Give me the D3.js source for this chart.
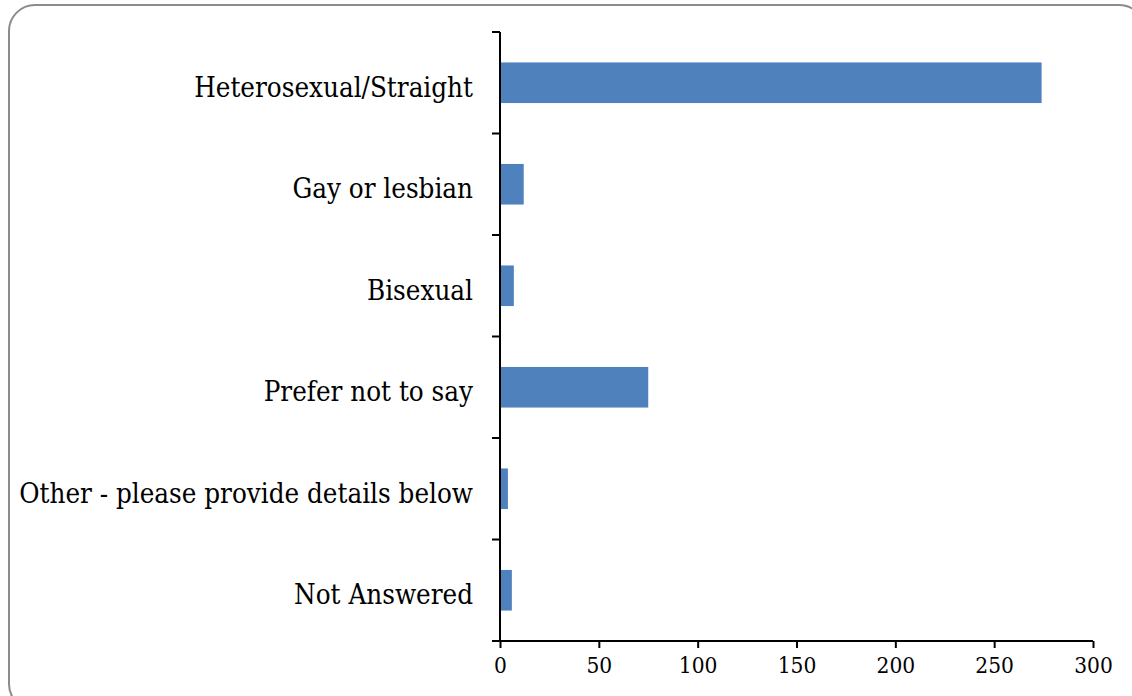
<!DOCTYPE html>
<html>
<head>
<meta charset="utf-8">
<script src="https://cdn.jsdelivr.net/npm/d3@7"></script>
<style>
  body { margin: 0; background: #fff; }
  svg { display: block; }
  text { font-family: "DejaVu Serif Condensed", "DejaVu Serif", serif; fill: #000; }
</style>
</head>
<body>
<div id="chart"></div>
<script>
var W = 1132, H = 696;

// categories top to bottom, counts
var categories = ["Heterosexual/Straight", "Gay or lesbian", "Bisexual",
                  "Prefer not to say", "Other - please provide details below", "Not Answered"];
var counts = [274, 12, 7, 75, 4, 6];
var xTicks = [0, 50, 100, 150, 200, 250, 300];

var data = categories.map(function(c, i) { return {name: c, value: counts[i]}; });

var svg = d3.select("#chart").append("svg")
    .attr("width", W)
    .attr("height", H);

// outer frame
svg.append("rect")
    .attr("x", 9).attr("y", 5)
    .attr("width", 1136).attr("height", 705)
    .attr("rx", 26).attr("ry", 26)
    .attr("fill", "#fff")
    .attr("stroke", "#8c8c8c")
    .attr("stroke-width", 2);

var xScale = d3.scaleLinear()
    .domain([0, 300])
    .range([500, 1093]);

var yScale = d3.scaleBand()
    .domain(categories)
    .range([32, 641])
    .paddingInner(0.6)
    .paddingOuter(0.3);

// bars
svg.selectAll("rect.bar")
    .data(data)
    .enter().append("rect")
    .attr("class", "bar")
    .attr("x", xScale(0))
    .attr("y", function(d) { return yScale(d.name); })
    .attr("width", function(d) { return xScale(d.value) - xScale(0); })
    .attr("height", yScale.bandwidth())
    .attr("fill", "#4f81bd");

// x axis
var xAxis = d3.axisBottom(xScale)
    .tickValues(xTicks)
    .tickSize(7)
    .tickSizeOuter(0)
    .tickPadding(9);

var gx = svg.append("g")
    .attr("transform", "translate(0,641)")
    .call(xAxis);
gx.select(".domain").remove();
gx.append("line")
    .attr("x1", xScale(0) - 8).attr("x2", xScale(300))
    .attr("y1", 0).attr("y2", 0)
    .attr("stroke", "#000").attr("stroke-width", 2);
gx.selectAll(".tick line").attr("stroke", "#000").attr("stroke-width", 2);
gx.selectAll(".tick text")
    .style("font-family", "'DejaVu Serif Condensed', 'DejaVu Serif', serif")
    .style("font-size", "22.5px")
    .attr("fill", "#000");

// y axis: ticks between categories like the original
var step = yScale.step();
var bounds = d3.range(categories.length + 1).map(function(i) {
  return yScale.range()[0] + i * step;
});
var gy = svg.append("g");
gy.append("line")
    .attr("x1", xScale(0)).attr("x2", xScale(0))
    .attr("y1", 32).attr("y2", 641)
    .attr("stroke", "#000").attr("stroke-width", 2);
gy.selectAll("line.tk")
    .data(bounds)
    .enter().append("line")
    .attr("class", "tk")
    .attr("x1", xScale(0) - 8).attr("x2", xScale(0))
    .attr("y1", function(d) { return d; })
    .attr("y2", function(d) { return d; })
    .attr("stroke", "#000").attr("stroke-width", 2);

gy.selectAll("text")
    .data(categories)
    .enter().append("text")
    .attr("x", xScale(0) - 27)
    .attr("y", function(d) { return yScale(d) + yScale.bandwidth() / 2 + 14; })
    .attr("text-anchor", "end")
    .style("font-size", "27.5px")
    .text(function(d) { return d; });
</script>
</body>
</html>
